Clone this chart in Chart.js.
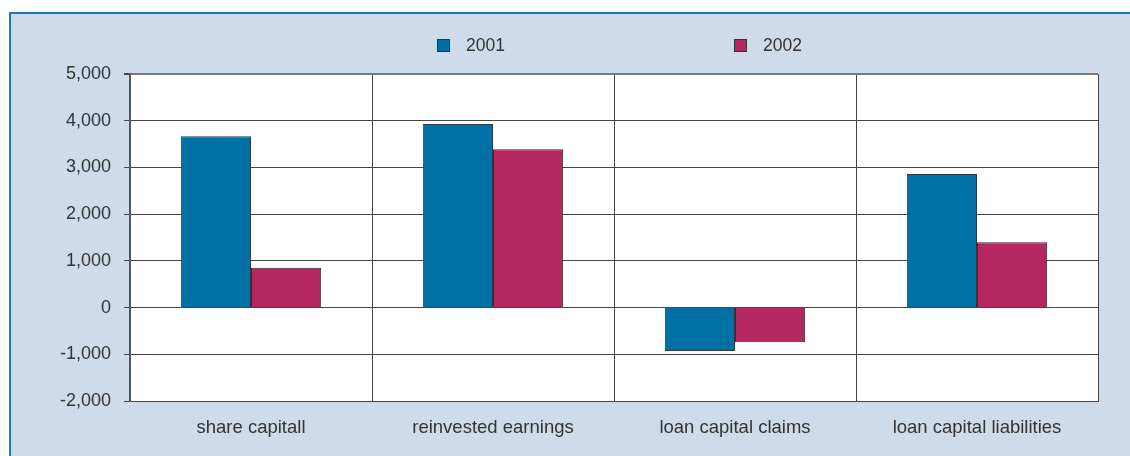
<!DOCTYPE html>
<html>
<head>
<meta charset="utf-8">
<script src="https://cdn.jsdelivr.net/npm/chart.js@4"></script>
<style>
    html, body { margin: 0; padding: 0; background: #ffffff; }
    #wrap {
        position: absolute;
        left: 0; top: 0;
        width: 1130px; height: 456px;
    }
</style>
</head>
<body>
<div id="wrap"><canvas id="chartCanvas" width="1130" height="456"></canvas></div>
<script>
const categories = ['share capitall', 'reinvested earnings', 'loan capital claims', 'loan capital liabilities'];
const seriesNames = ['2001', '2002'];
const values2001 = [3670, 3930, -930, 2860];
const values2002 = [850, 3390, -745, 1400];
const yTicks = [-2000, -1000, 0, 1000, 2000, 3000, 4000, 5000];

const blue = '#0071a4';
const magenta = '#b5285f';
const textColor = '#333333';
const fontFamily = '"Liberation Sans", Arial, sans-serif';

// frame: light blue panel with blue line on left and top
const framePlugin = {
    id: 'frame',
    beforeDraw(chart) {
        const ctx = chart.ctx;
        ctx.save();
        ctx.fillStyle = '#ffffff';
        ctx.fillRect(0, 0, chart.width, chart.height);
        ctx.fillStyle = '#cddbea';
        ctx.fillRect(9, 12, chart.width - 9, chart.height - 12);
        ctx.fillStyle = '#1f78b8';
        ctx.fillRect(9, 12, chart.width - 9, 2);
        ctx.fillRect(9, 12, 2, chart.height - 12);
        // plot background
        const a = chart.chartArea;
        ctx.fillStyle = '#ffffff';
        ctx.fillRect(a.left, a.top, a.right - a.left, a.bottom - a.top);
        ctx.restore();
    }
};

// legend drawn by hand, items are far apart in the original
const legendPlugin = {
    id: 'wideLegend',
    afterDraw(chart) {
        const ctx = chart.ctx;
        const a = chart.chartArea;
        const mid = (a.left + a.right) / 2;
        const items = [
            { x: mid - 177, color: blue, text: seriesNames[0] },
            { x: mid + 120, color: magenta, text: seriesNames[1] }
        ];
        ctx.save();
        ctx.font = '17.5px ' + fontFamily;
        ctx.textBaseline = 'middle';
        items.forEach((it) => {
            ctx.fillStyle = it.color;
            ctx.fillRect(it.x, 39, 13, 13);
            ctx.strokeStyle = '#333333';
            ctx.lineWidth = 1;
            ctx.strokeRect(it.x + 0.5, 39.5, 12, 12);
            ctx.fillStyle = textColor;
            ctx.fillText(it.text, it.x + 29, 46);
        });
        ctx.restore();
    }
};

new Chart(document.getElementById('chartCanvas'), {
    type: 'bar',
    data: {
        labels: categories,
        datasets: [
            {
                label: seriesNames[0],
                data: values2001,
                backgroundColor: blue,
                borderColor: '#2b3a44',
                borderWidth: 1
            },
            {
                label: seriesNames[1],
                data: values2002,
                backgroundColor: magenta,
                borderColor: '#3a2a30',
                borderWidth: 1
            }
        ]
    },
    options: {
        responsive: false,
        animation: false,
        devicePixelRatio: 1,
        layout: { padding: { left: 0, top: 74, right: 32, bottom: 0 } },
        datasets: {
            bar: { categoryPercentage: 0.58, barPercentage: 1.0 }
        },
        plugins: {
            legend: { display: false },
            tooltip: { enabled: false }
        },
        scales: {
            x: {
                offset: true,
                afterFit(scale) { scale.height = 55; },
                grid: {
                    offset: true,
                    drawTicks: false,
                    color: '#444444',
                    lineWidth: 1
                },
                border: { display: true, color: '#444444' },
                ticks: {
                    color: textColor,
                    padding: 16,
                    font: { size: 18.5, family: fontFamily }
                }
            },
            y: {
                min: -2000,
                max: 5000,
                afterFit(scale) { scale.width = 130; },
                afterBuildTicks(scale) { scale.ticks = yTicks.map(v => ({ value: v })); },
                grid: {
                    color: (c) => (c.tick && c.tick.value === 5000 ? '#7a7a7a' : '#444444'),
                    lineWidth: (c) => (c.tick && c.tick.value === 5000 ? 2 : 1),
                    tickLength: 6,
                    tickColor: '#444444'
                },
                border: { display: true, color: '#555555', width: 2 },
                ticks: {
                    color: textColor,
                    padding: 13,
                    font: { size: 18, family: fontFamily },
                    callback: (v) => Number(v).toLocaleString('en-US')
                }
            }
        }
    },
    plugins: [framePlugin, legendPlugin]
});
</script>
</body>
</html>
